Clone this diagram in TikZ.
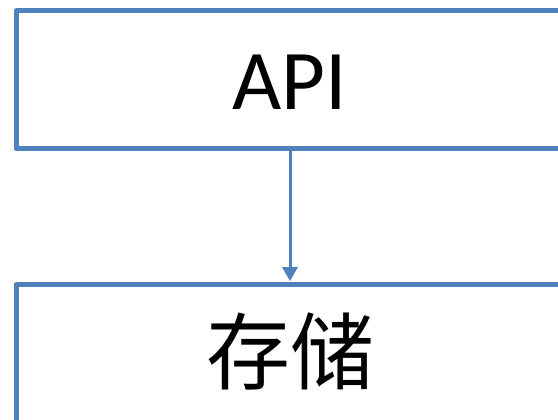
\documentclass[tikz,border=0pt]{standalone}
\usepackage{fontspec}
\setmainfont{Carlito}
\newfontfamily\cjk{Noto Sans CJK SC}
\usetikzlibrary{arrows.meta}
\definecolor{boxblue}{RGB}{79,129,189}
\tikzset{
  blockbox/.style={draw=boxblue, line width=5pt, line join=round, inner sep=0pt,
    minimum width=548pt, minimum height=137.7pt, text depth=0pt},
  flowarrow/.style={draw=boxblue, line width=3pt, -{Triangle[length=14pt,width=15pt]}, shorten >=1pt}
}
\begin{document}
\begin{tikzpicture}[x=1pt,y=1pt]
\useasboundingbox (0,0) rectangle (558,-420);
\clip (0,0) rectangle (558,-420);
\fill[white] (0,0) rectangle (558,-420);
\node[blockbox, text height=59.3pt, font=\fontsize{85}{95}\selectfont] (api) at (290,-79.85) {API};
\node[blockbox, text height=69.9pt, text depth=10.1pt, font=\cjk\fontsize{84}{94}\selectfont] (store) at (290,-353.5) {存储};
\draw[flowarrow] (api.south) -- (store.north);
\end{tikzpicture}
\end{document}
